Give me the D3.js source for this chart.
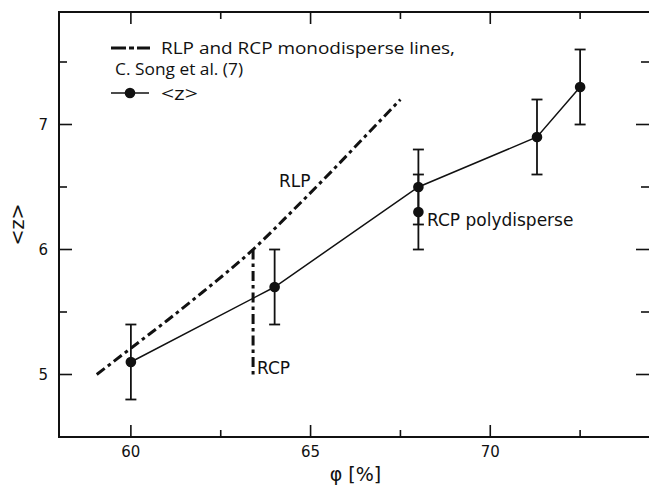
<!DOCTYPE html>
<html>
  <head>
    <meta charset="utf-8">
    <title>z vs phi</title>
    <style>
      body { margin: 0; background: #fff; }
      .tick-label { font: 15px "DejaVu Sans", sans-serif; fill: #111; }
      .axis-title { font: 19px "DejaVu Sans", sans-serif; fill: #111; }
      .note { font: 17px "DejaVu Sans", sans-serif; fill: #111; }
      .legend { font-family: "Open Sans", sans-serif; fill: #111; }
    </style>
    <script src="https://d3js.org/d3.v7.min.js"></script>
  </head>
  <body>
    <svg class="chart"></svg>
    <script>
// measured points (mean coordination number)
var phi = [60, 64, 68, 71.3, 72.5];
var zMean = [5.1, 5.7, 6.5, 6.9, 7.3];
var zErr = [0.3, 0.3, 0.3, 0.3, 0.3];

// RCP polydisperse point
var polyPhi = [68];
var polyZ = [6.3];
var polyErr = [0.3];

// monodisperse lines (Song et al.)
var rlpPhi = [59.05, 60, 61, 62, 63.4, 64.5, 65.6, 66.5, 67.5];
var rlpZ = [5.0, 5.21, 5.43, 5.66, 6.0, 6.31, 6.63, 6.9, 7.2];
var rcpPhi = [63.4, 63.4];
var rcpZ = [6.0, 5.0];

var xMajor = [60, 65, 70], xMinor = [62.5, 67.5, 72.5];
var yMajor = [5, 6, 7], yMinor = [5.5, 6.5, 7.5];

var width = 649, height = 487;
var mLeft = 59, mRight = 652, mTop = 12, mBottom = 437;

var x = d3.scaleLinear().domain([58, 74.5]).range([mLeft, mRight]);
var y = d3.scaleLinear().domain([4.5, 7.9]).range([mBottom, mTop]);

var svg = d3.select(".chart")
    .attr("width", width)
    .attr("height", height);

// frame (right side falls just outside the picture)
svg.append("rect")
    .attr("x", mLeft).attr("y", mTop)
    .attr("width", mRight - mLeft).attr("height", mBottom - mTop)
    .attr("fill", "none").attr("stroke", "#111").attr("stroke-width", 2);

// inward ticks on all four sides
function xticks(vals, len) {
  vals.forEach(function(v) {
    svg.append("line").attr("x1", x(v)).attr("x2", x(v))
      .attr("y1", mBottom).attr("y2", mBottom - len)
      .attr("stroke", "#111").attr("stroke-width", 1.6);
    svg.append("line").attr("x1", x(v)).attr("x2", x(v))
      .attr("y1", mTop).attr("y2", mTop + len)
      .attr("stroke", "#111").attr("stroke-width", 1.6);
  });
}
function yticks(vals, len) {
  vals.forEach(function(v) {
    svg.append("line").attr("y1", y(v)).attr("y2", y(v))
      .attr("x1", mLeft).attr("x2", mLeft + len)
      .attr("stroke", "#111").attr("stroke-width", 1.6);
    svg.append("line").attr("y1", y(v)).attr("y2", y(v))
      .attr("x1", mRight).attr("x2", mRight - len - 3)
      .attr("stroke", "#111").attr("stroke-width", 1.6);
  });
}
xticks(xMajor, 12); xticks(xMinor, 7);
yticks(yMajor, 13); yticks(yMinor, 8);

svg.selectAll(".xl").data(xMajor).enter().append("text")
    .attr("class", "tick-label")
    .attr("x", function(d) { return x(d); })
    .attr("y", 457)
    .attr("text-anchor", "middle")
    .text(function(d) { return d; });

svg.selectAll(".yl").data(yMajor).enter().append("text")
    .attr("class", "tick-label")
    .attr("x", 48)
    .attr("y", function(d) { return y(d) + 5.5; })
    .attr("text-anchor", "end")
    .text(function(d) { return d; });

svg.append("text").attr("class", "axis-title")
    .attr("x", (mLeft + mRight) / 2).attr("y", 481)
    .attr("text-anchor", "middle")
    .text("φ [%]");

svg.append("text").attr("class", "axis-title")
    .attr("transform", "translate(24," + ((mTop + mBottom) / 2) + ") rotate(-90)")
    .attr("text-anchor", "middle")
    .text("<z>");

// dash-dot monodisperse lines
var dashes = "10,4,3.5,4";
var line = d3.line()
    .x(function(d) { return x(d[0]); })
    .y(function(d) { return y(d[1]); })
    .curve(d3.curveMonotoneX);

svg.append("path")
    .datum(rlpPhi.map(function(p, i) { return [p, rlpZ[i]]; }))
    .attr("d", line)
    .attr("fill", "none").attr("stroke", "#111")
    .attr("stroke-width", 3).attr("stroke-dasharray", dashes);

svg.append("path")
    .datum(rcpPhi.map(function(p, i) { return [p, rcpZ[i]]; }))
    .attr("d", d3.line().x(function(d) { return x(d[0]); }).y(function(d) { return y(d[1]); }))
    .attr("fill", "none").attr("stroke", "#111")
    .attr("stroke-width", 3).attr("stroke-dasharray", dashes);

// data line
var pts = phi.map(function(p, i) { return { p: p, z: zMean[i], e: zErr[i] }; });
var poly = polyPhi.map(function(p, i) { return { p: p, z: polyZ[i], e: polyErr[i] }; });

svg.append("path")
    .datum(pts)
    .attr("d", d3.line().x(function(d) { return x(d.p); }).y(function(d) { return y(d.z); }))
    .attr("fill", "none").attr("stroke", "#111").attr("stroke-width", 1.5);

function errorBars(data) {
  var g = svg.append("g").attr("stroke", "#111").attr("stroke-width", 1.8);
  data.forEach(function(d) {
    g.append("line").attr("x1", x(d.p)).attr("x2", x(d.p))
      .attr("y1", y(d.z - d.e)).attr("y2", y(d.z + d.e));
    [d.z - d.e, d.z + d.e].forEach(function(v) {
      g.append("line").attr("x1", x(d.p) - 5.5).attr("x2", x(d.p) + 5.5)
        .attr("y1", y(v)).attr("y2", y(v));
    });
  });
  svg.selectAll(null).data(data).enter().append("circle")
    .attr("cx", function(d) { return x(d.p); })
    .attr("cy", function(d) { return y(d.z); })
    .attr("r", 5.3).attr("fill", "#111");
}
errorBars(pts);
errorBars(poly);

// annotations
svg.append("text").attr("class", "note").attr("x", 279).attr("y", 187).text("RLP");
svg.append("text").attr("class", "note").attr("x", 257).attr("y", 374).text("RCP");
svg.append("text").attr("class", "note").attr("x", 427).attr("y", 226).text("RCP polydisperse");

// legend
svg.append("line").attr("x1", 111).attr("x2", 150).attr("y1", 48).attr("y2", 48)
    .attr("stroke", "#111").attr("stroke-width", 3).attr("stroke-dasharray", "15,3,5,3");
svg.append("text").attr("class", "legend").attr("x", 161).attr("y", 54)
    .style("font-size", "16px")
    .attr("textLength", 294).attr("lengthAdjust", "spacingAndGlyphs")
    .text("RLP and RCP monodisperse lines,");
svg.append("text").attr("class", "legend").attr("x", 115).attr("y", 75)
    .style("font-size", "15.5px")
    .attr("textLength", 128).attr("lengthAdjust", "spacingAndGlyphs")
    .text("C. Song et al. (7)");
svg.append("line").attr("x1", 111).attr("x2", 149).attr("y1", 93).attr("y2", 93)
    .attr("stroke", "#111").attr("stroke-width", 1.5);
svg.append("circle").attr("cx", 130).attr("cy", 93).attr("r", 5.3).attr("fill", "#111");
svg.append("text").attr("class", "legend").attr("x", 161).attr("y", 100)
    .style("font-size", "19px")
    .attr("textLength", 37).attr("lengthAdjust", "spacingAndGlyphs")
    .text("<z>");
    </script>
  </body>
</html>
